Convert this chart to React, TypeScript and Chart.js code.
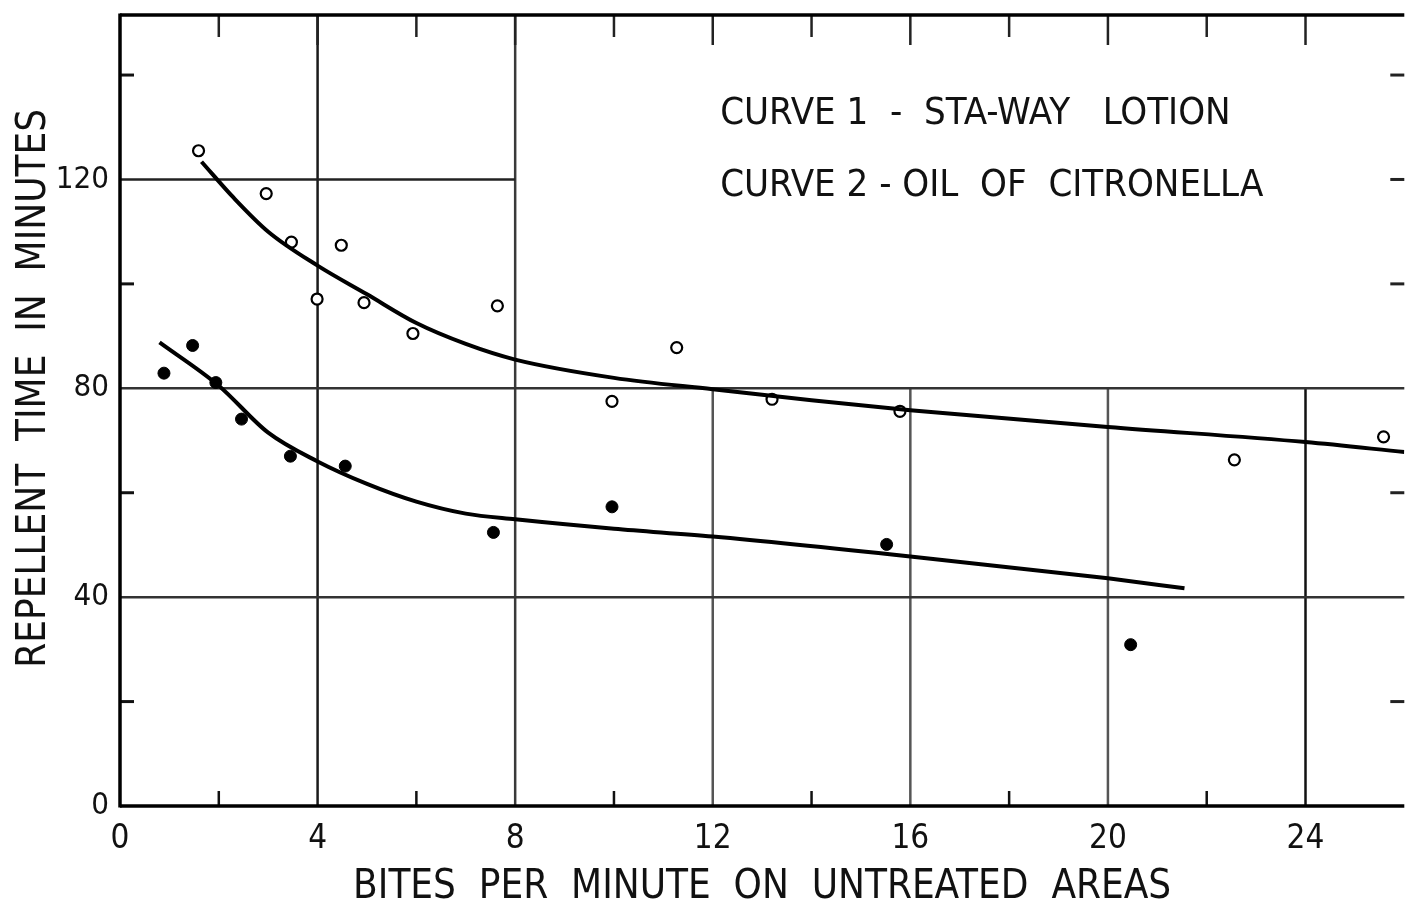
import React, { useEffect, useRef } from "react";
import { Chart, registerables } from "chart.js";

Chart.register(...registerables);

// Curve 1 – Sta-Way lotion (open circles)
const staWayX = [1.59, 2.96, 3.47, 3.99, 4.48, 4.94, 5.93, 7.64, 9.96, 11.27, 13.2, 15.79, 22.56, 25.58];
const staWayY = [125.5, 117.3, 108, 97.1, 107.4, 96.4, 90.5, 95.8, 77.5, 87.8, 77.9, 75.6, 66.3, 70.7];
// Curve 2 – Oil of citronella (filled circles)
const citroX = [0.89, 1.47, 1.94, 2.46, 3.45, 4.56, 7.56, 9.96, 15.52, 20.46];
const citroY = [82.9, 88.2, 81.1, 74.1, 67, 65.1, 52.4, 57.3, 50.1, 30.9];

// Fitted curves as drawn
const curve1X = [1.65, 2.3, 3, 4, 5, 6, 7, 8, 10, 12, 14, 16, 20, 24, 26];
const curve1Y = [123.4, 116.5, 110, 103.5, 98, 92.5, 88.5, 85.5, 82, 79.8, 77.7, 75.8, 72.6, 69.7, 67.8];
const curve2X = [0.8, 2, 3, 4, 5, 6, 7, 8, 10, 12, 16, 20, 21.55];
const curve2Y = [88.8, 80.5, 71.5, 66, 61.7, 58.3, 56, 54.9, 53.1, 51.6, 47.8, 43.6, 41.7];

const xTicks = [0, 4, 8, 12, 16, 20, 24];
const yTicks = [0, 40, 80, 120];
const legendLines = ["CURVE 1  -  STA-WAY   LOTION", "CURVE 2 - OIL  OF  CITRONELLA"];

const xTitle = "BITES  PER  MINUTE  ON  UNTREATED  AREAS";
const yTitle = "REPELLENT  TIME  IN  MINUTES";

const FONT = "'Liberation Sans Narrow', 'DejaVu Sans Condensed', 'DejaVu Sans', sans-serif";

const pts = (xs: number[], ys: number[]) => xs.map((x, i) => ({ x, y: ys[i] }));

const paperPlugin = {
  id: "paper",
  beforeDatasetsDraw(chart: any) {
    const { ctx, chartArea: a, scales } = chart;
    const xs = scales.x;
    const ys = scales.y;
    const X = (v: number) => xs.getPixelForValue(v);
    const Y = (v: number) => ys.getPixelForValue(v);
    ctx.save();
    ctx.lineCap = "butt";
    const line = (x1: number, y1: number, x2: number, y2: number, w: number, c: string) => {
      ctx.beginPath();
      ctx.strokeStyle = c;
      ctx.lineWidth = w;
      ctx.moveTo(x1, y1);
      ctx.lineTo(x2, y2);
      ctx.stroke();
    };
    // vertical grid
    line(X(4), a.top, X(4), a.bottom, 2.5, "#1a1a1a");
    line(X(8), a.top, X(8), a.bottom, 2.5, "#3a3a3a");
    [12, 16, 20].forEach((v) => line(X(v), Y(80), X(v), a.bottom, 2.5, "#555"));
    line(X(24), Y(80), X(24), a.bottom, 2.5, "#111");
    // horizontal grid
    line(a.left, Y(40), a.right, Y(40), 2.5, "#333");
    line(a.left, Y(80), a.right, Y(80), 2.5, "#333");
    line(a.left, Y(120), X(8), Y(120), 2.5, "#222");
    // minor inward ticks
    [2, 6, 10, 14, 18, 22].forEach((v) => line(X(v), a.bottom, X(v), a.bottom - 15, 2.5, "#111"));
    [2, 4, 6, 8, 10, 12, 14, 16, 18, 20, 22, 24].forEach((v) =>
      line(X(v), a.top, X(v), a.top + (v % 4 === 0 ? 30 : 22), 2.5, "#222")
    );
    [20, 60, 100, 140].forEach((v) => line(a.left, Y(v), a.left + 14, Y(v), 3, "#111"));
    [20, 60, 100, 120, 140].forEach((v) => line(a.right - 14, Y(v), a.right, Y(v), 3, "#222"));
    // frame
    line(a.left, a.top, a.right, a.top, 3.5, "#000");
    line(a.left, a.top - 1.5, a.left, a.bottom + 1.5, 3.5, "#000");
    line(a.left, a.bottom, a.right, a.bottom, 3.5, "#000");
    // legend text
    ctx.fillStyle = "#111";
    ctx.font = `38px ${FONT}`;
    ctx.textAlign = "left";
    ctx.textBaseline = "middle";
    ctx.fillText(legendLines[0], X(12.15), Y(132.5));
    ctx.fillText(legendLines[1], X(12.15), Y(118.8));
    // y axis title
    ctx.save();
    ctx.translate(35, Y(80));
    ctx.rotate(-Math.PI / 2);
    ctx.font = `40px ${FONT}`;
    ctx.textAlign = "center";
    ctx.textBaseline = "middle";
    ctx.fillText(yTitle, 0, 0);
    ctx.restore();
    ctx.restore();
  },
};

export default function App() {
  const ref = useRef<HTMLCanvasElement | null>(null);
  useEffect(() => {
    if (!ref.current) return;
    const chart = new Chart(ref.current, {
      type: "scatter",
      data: {
        datasets: [
          {
            label: "Curve 1 fit",
            type: "line",
            data: pts(curve1X, curve1Y),
            borderColor: "#000",
            borderWidth: 4,
            pointRadius: 0,
            tension: 0.4,
            cubicInterpolationMode: "monotone",
            fill: false,
          } as any,
          {
            label: "Curve 2 fit",
            type: "line",
            data: pts(curve2X, curve2Y),
            borderColor: "#000",
            borderWidth: 4,
            pointRadius: 0,
            tension: 0.4,
            cubicInterpolationMode: "monotone",
            fill: false,
          } as any,
          {
            label: "Sta-Way lotion",
            data: pts(staWayX, staWayY),
            pointRadius: 5.5,
            pointBorderWidth: 2.2,
            pointBorderColor: "#000",
            pointBackgroundColor: "#fff",
          },
          {
            label: "Oil of citronella",
            data: pts(citroX, citroY),
            pointRadius: 6,
            pointBorderWidth: 1,
            pointBorderColor: "#000",
            pointBackgroundColor: "#000",
          },
        ],
      },
      options: {
        animation: false,
        responsive: false,
        maintainAspectRatio: false,
        layout: { padding: { top: 15, right: 2, left: 0, bottom: 0 } },
        plugins: {
          legend: { display: false },
          tooltip: { enabled: false },
        },
        scales: {
          x: {
            type: "linear",
            min: 0,
            max: 26,
            grid: { display: false, drawTicks: false },
            border: { display: false },
            afterBuildTicks: (s: any) => {
              s.ticks = xTicks.map((v) => ({ value: v }));
            },
            afterFit: (s: any) => {
              s.height = 114;
              s.paddingLeft = 0;
              s.paddingRight = 0;
            },
            ticks: {
              color: "#111",
              padding: 14,
              font: { family: FONT, size: 33 },
              maxRotation: 0,
              autoSkip: false,
            },
            title: {
              display: true,
              text: xTitle,
              color: "#111",
              font: { family: FONT, size: 40 },
              padding: { top: 0, bottom: 8 },
            },
          },
          y: {
            type: "linear",
            min: 0,
            max: 151.5,
            grid: { display: false, drawTicks: false },
            border: { display: false },
            afterBuildTicks: (s: any) => {
              s.ticks = yTicks.map((v) => ({ value: v }));
            },
            afterFit: (s: any) => {
              s.width = 120;
              s.paddingTop = 0;
              s.paddingBottom = 0;
            },
            ticks: {
              color: "#111",
              padding: 11,
              font: { family: FONT, size: 31 },
              autoSkip: false,
            },
            title: { display: false },
          },
        },
      },
      plugins: [paperPlugin],
    });
    return () => chart.destroy();
  }, []);
  return (
    <div style={{ position: "fixed", left: 0, top: 0, width: 1412, height: 920, background: "#fff" }}>
      <canvas ref={ref} width={1412} height={920} style={{ width: 1412, height: 920 }} />
    </div>
  );
}
